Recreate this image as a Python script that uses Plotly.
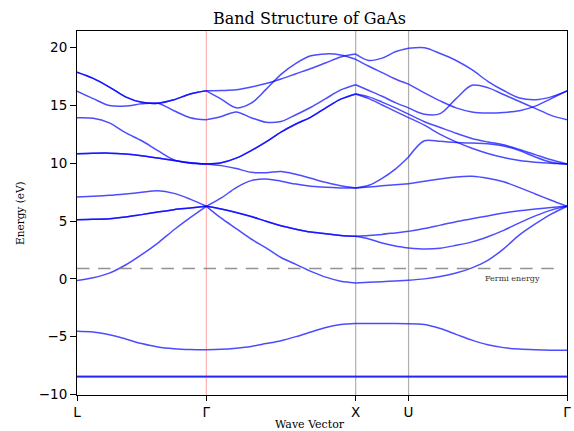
import numpy as np
import plotly.graph_objects as go

# High-symmetry points along the k-path (units of 2*pi/a)
sym_labels = ["L", "Γ", "X", "U", "Γ"]
sym_k = [0.0, 0.866, 1.866, 2.220, 3.281]
seg_steps = [8, 10, 4, 10]  # sample intervals on each path segment

# Band energies (eV) read at the sample points (33 points along the path)
band1 = [17.89, 17.35, 16.6, 15.75, 15.28, 15.2, 15.5, 16.0, 16.27,
         16.3, 16.36, 16.6, 16.9, 17.3, 17.75, 18.2, 18.7, 19.2, 19.45,
         18.9, 19.1, 19.65, 19.95,
         20.0, 19.5, 18.9, 18.1, 17.1, 16.3, 15.65, 15.5, 15.75, 16.27]
band2 = [17.89, 17.35, 16.6, 15.75, 15.28, 15.2, 15.5, 16.0, 16.27,
         15.55, 14.8, 15.2, 16.4, 17.7, 18.65, 19.3, 19.47, 19.38, 19.0,
         18.4, 17.85, 17.3, 16.85,
         16.1, 15.4, 14.8, 14.45, 14.35, 14.4, 14.55, 14.95, 15.6, 16.27]
band3 = [16.25, 15.6, 15.0, 14.95, 15.15, 15.2, 14.55, 13.95, 13.77,
         14.05, 14.45, 13.95, 13.55, 13.62, 14.2, 14.85, 15.6, 16.35, 16.8,
         16.3, 15.8, 15.25, 14.8,
         14.25, 14.3, 15.6, 16.75, 16.55, 15.95, 15.35, 14.75, 14.15, 13.77]
band4 = [13.94, 13.9, 13.5, 12.65, 11.95, 11.1, 10.3, 10.0, 9.94,
         10.05, 10.45, 11.1, 11.85, 12.7, 13.4, 14.0, 14.8, 15.55, 16.0,
         15.75, 15.3, 14.8, 14.25,
         13.6, 13.1, 12.6, 12.15, 11.85, 11.6, 11.2, 10.75, 10.3, 9.94]
band5 = [10.83, 10.87, 10.88, 10.8, 10.66, 10.45, 10.25, 10.05, 9.94,
         10.05, 10.45, 11.1, 11.85, 12.7, 13.4, 14.0, 14.8, 15.55, 16.0,
         15.6, 15.05, 14.5, 13.95,
         13.3, 12.5, 11.85, 11.3, 10.85, 10.5, 10.25, 10.1, 10.0, 9.94]
band6 = [10.83, 10.87, 10.88, 10.8, 10.66, 10.45, 10.25, 10.05, 9.94,
         9.8, 9.55, 9.22, 9.18, 9.3, 9.05, 8.7, 8.35, 8.05, 7.87,
         8.1, 8.7, 9.5, 10.55,
         11.95, 11.9, 11.8, 11.75, 11.7, 11.5, 11.1, 10.55, 10.1, 9.94]
band7 = [7.09, 7.15, 7.23, 7.35, 7.49, 7.62, 7.4, 6.9, 6.28,
         7.0, 7.9, 8.5, 8.64, 8.45, 8.2, 8.02, 7.92, 7.87, 7.86,
         7.95, 8.05, 8.15, 8.24,
         8.45, 8.65, 8.82, 8.87, 8.7, 8.4, 7.9, 7.35, 6.8, 6.28]
band8 = [5.12, 5.15, 5.2, 5.35, 5.56, 5.78, 5.99, 6.13, 6.28,
         6.05, 5.75, 5.4, 4.98, 4.6, 4.3, 4.05, 3.9, 3.75, 3.68,
         3.75, 3.85, 3.98, 4.11,
         4.35, 4.65, 4.95, 5.2, 5.45, 5.7, 5.9, 6.05, 6.18, 6.28]
band9 = [5.12, 5.15, 5.2, 5.35, 5.56, 5.78, 5.99, 6.13, 6.28,
         6.05, 5.75, 5.4, 4.98, 4.6, 4.3, 4.05, 3.9, 3.75, 3.68,
         3.45, 3.1, 2.85, 2.68,
         2.58, 2.65, 2.9, 3.2, 3.65, 4.2, 4.85, 5.45, 5.95, 6.28]
band10 = [-0.15, 0.1, 0.5, 1.2, 2.1, 3.1, 4.25, 5.3, 6.28,
          5.25, 4.35, 3.45, 2.68, 1.85, 1.25, 0.65, 0.15, -0.2, -0.35,
          -0.3, -0.25, -0.18, -0.12,
          0.0, 0.2, 0.5, 0.95, 1.6, 2.6, 3.8, 4.75, 5.6, 6.28]
band11 = [-4.53, -4.6, -4.84, -5.2, -5.6, -5.9, -6.05, -6.12, -6.14,
          -6.1, -6.0, -5.85, -5.6, -5.35, -5.0, -4.6, -4.2, -3.95, -3.86,
          -3.86, -3.86, -3.87, -3.88,
          -3.95, -4.3, -4.8, -5.3, -5.7, -5.95, -6.08, -6.14, -6.17, -6.17]
band12 = [-8.42] * 33
band13 = [-8.50] * 33

fermi_energy = 0.9
fermi_end_k = 3.214
y_range = [-10.05, 21.45]
y_ticks = [-10, -5, 0, 5, 10, 15, 20]

bands = [band1, band2, band3, band4, band5, band6, band7, band8, band9,
         band10, band11, band12, band13]

# k sample grid built from the path definition
seg_k = [np.linspace(sym_k[i], sym_k[i + 1], seg_steps[i] + 1) for i in range(4)]
bounds = np.cumsum([0] + seg_steps)

fig = go.Figure()

for b in bands:
    xs, ys = [], []
    for i in range(4):
        xs += list(seg_k[i]) + [None]
        ys += list(b[bounds[i]:bounds[i + 1] + 1]) + [None]
    fig.add_trace(go.Scatter(
        x=xs, y=ys, mode="lines", connectgaps=False,
        line=dict(color="rgba(0,0,255,0.7)", width=1.5, shape="spline", smoothing=0.9),
        showlegend=False, hoverinfo="skip"))

fig.add_trace(go.Scatter(
    x=[0, fermi_end_k], y=[fermi_energy, fermi_energy], mode="lines",
    line=dict(color="rgba(128,128,128,0.85)", width=1.5, dash="12.5px,8.6px"),
    showlegend=False, hoverinfo="skip"))

shapes = []
for k, lab in zip(sym_k[1:4], sym_labels[1:4]):
    col = "rgba(255,0,0,0.3)" if lab == "Γ" else "rgba(110,110,110,0.55)"
    shapes.append(dict(type="line", xref="x", yref="paper", x0=k, x1=k, y0=0, y1=1,
                       line=dict(color=col, width=1.2), layer="below"))

serif = "DejaVu Serif"
fig.update_layout(
    width=574, height=431,
    margin=dict(l=77, r=7, t=31, b=36, autoexpand=False),
    paper_bgcolor="white", plot_bgcolor="white",
    shapes=shapes,
    annotations=[
        dict(x=2.915, y=0.0, xref="x", yref="y", text="Fermi energy",
             showarrow=False, font=dict(family=serif, size=8, color="#333333")),
        dict(x=0.4755, y=1.0357, xref="paper", yref="paper", text="Band Structure of GaAs",
             showarrow=False, xanchor="center", yanchor="middle",
             font=dict(family=serif, size=16, color="black")),
        dict(x=0.4755, y=-0.081, xref="paper", yref="paper", text="Wave Vector",
             showarrow=False, xanchor="center", yanchor="middle",
             font=dict(family=serif, size=11, color="black")),
        dict(x=-0.1163, y=0.5, xref="paper", yref="paper", text="Energy (eV)",
             showarrow=False, xanchor="center", yanchor="middle", textangle=-90,
             font=dict(family=serif, size=10.5, color="black")),
    ],
    font=dict(family="DejaVu Sans", color="black"),
)
fig.update_xaxes(range=[0, sym_k[-1]], tickmode="array", tickvals=sym_k, ticktext=sym_labels,
                 showgrid=False, zeroline=False, showline=True, linecolor="black", linewidth=1,
                 mirror=True, ticks="outside", ticklen=5, tickcolor="black", automargin=False,
                 tickfont=dict(size=13.5, family="DejaVu Sans"))
fig.update_yaxes(range=y_range, tickvals=y_ticks, automargin=False,
                 showgrid=False, zeroline=False, showline=True, linecolor="black", linewidth=1,
                 mirror=True, ticks="outside", ticklen=6, tickcolor="black",
                 tickfont=dict(size=13.5, family="DejaVu Sans"))

fig.write_html("out.html")
